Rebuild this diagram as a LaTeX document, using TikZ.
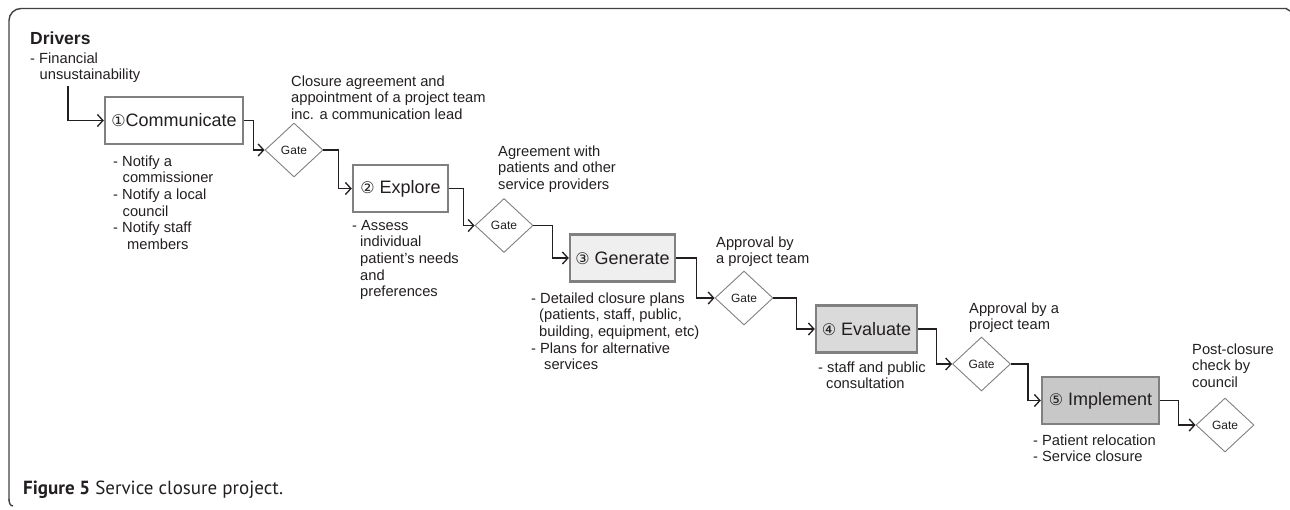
\documentclass[tikz,border=0pt]{standalone}
\usepackage{fontspec}
\setmainfont{Liberation Sans}
\newfontfamily\circfont{DejaVu Sans}
\newfontfamily\capfont{PT Sans}
\usetikzlibrary{shapes.geometric,arrows.meta}
\definecolor{ink}{HTML}{231F20}
\definecolor{boxline}{HTML}{808080}
\definecolor{genfill}{HTML}{EFEFEF}
\definecolor{evafill}{HTML}{DADADA}
\definecolor{impfill}{HTML}{C8C8C8}
\newcommand{\circnum}[1]{{\circfont\fontsize{16}{16}\selectfont #1}}
\begin{document}
\begin{tikzpicture}[x=1pt,y=-1pt,
  txt/.style={anchor=north west, inner sep=0pt, align=left, text=ink,
    font=\fontsize{14.7}{16.6}\selectfont, yshift=11.62pt},
  stage/.style={draw=boxline, line width=2.4pt, inner sep=0pt, text=ink,
    minimum height=47pt, font=\fontsize{18}{20}\selectfont},
  gate/.style={diamond, draw=boxline, line width=0.9pt, fill=white, inner sep=0pt,
    minimum width=58pt, minimum height=54pt, text=ink, font=\fontsize{12}{14}\selectfont},
  conn/.style={draw=ink, line width=1.3pt, -{Straight Barb[length=5.5pt,width=12pt]}},
  frame/.style={draw=ink!85, line width=1.4pt}
]
\useasboundingbox (0,0) rectangle (1290,509);
% frame
\draw[frame, rounded corners=12pt] (1287,8.5) -- (9,8.5) -- (9,500);
\draw[frame] (9,499) to[out=-90,in=180] (13,506);
\draw[frame] (1286,8.5) -- (1290,11);

% drivers
\node[txt, font=\bfseries\fontsize{17.5}{19}\selectfont, yshift=-0.5pt] (drv) at (30,42) {\strut Drivers};
\node[txt] (fin) at (30,63) {\strut - Financial\\\hspace*{9.5pt}unsustainability};
\coordinate (drvstart) at (68,86);

% stages
\node[stage, fill=white, minimum width=138pt] (comm) at (174,120.5)
  {\circnum{①}Communicate};
\node[stage, fill=white, minimum width=95pt] (expl) at (400.5,188.5)
  {\circnum{②} Explore};
\node[stage, fill=genfill, minimum width=105pt] (gen) at (622.5,258)
  {\circnum{③} Generate};
\node[stage, fill=evafill, minimum width=101pt] (eva) at (866.5,329)
  {\circnum{④} Evaluate};
\node[stage, fill=impfill, minimum width=117pt] (imp) at (1100.5,400.5)
  {\circnum{⑤} Implement};

% gates
\node[gate] (g1) at (294,150) {Gate};
\node[gate] (g2) at (504,225.5) {Gate};
\node[gate] (g3) at (744,298) {Gate};
\node[gate] (g4) at (981.5,364) {Gate};
\node[gate] (g5) at (1225,425) {Gate};

% connectors
\draw[conn] (drvstart) |- (comm.west);
\draw[conn] (comm.east) -- ++(9,0) |- (g1.west);
\draw[conn] (g1.east) -- ++(15,0) |- (expl.west);
\draw[conn] (expl.east) -- ++(14,0) |- (g2.west);
\draw[conn] (g2.east) -- ++(19,0) |- (gen.west);
\draw[conn] (gen.east) -- ++(20,0) |- (g3.west);
\draw[conn] (g3.east) -- ++(23,0) |- (eva.west);
\draw[conn] (eva.east) -- ++(18,0) |- (g4.west);
\draw[conn] (g4.east) -- ++(17,0) |- (imp.west);
\draw[conn] (imp.east) -- ++(18,0) |- (g5.west);

% annotations
\node[txt] (t1) at (291,86) {\strut Closure agreement and\\appointment of a project team\\inc. a communication lead};
\node[txt] (t2) at (113,166) {\strut - Notify a\\\hspace*{9.5pt}commissioner\\- Notify a local\\\hspace*{9.5pt}council\\- Notify staff\\\hspace*{14pt}members};
\node[txt] (t3) at (352,230) {\strut - Assess\\\hspace*{8pt}individual\\\hspace*{8pt}patient's needs\\\hspace*{8pt}and\\\hspace*{8pt}preferences};
\node[txt] (t4) at (498,156) {\strut Agreement with\\patients and other\\service providers};
\node[txt] (t5) at (531,303) {\strut - Detailed closure plans\\\hspace*{8pt}(patients, staff, public,\\\hspace*{8pt}building, equipment, etc)\\- Plans for alternative\\\hspace*{13pt}services};
\node[txt] (t6) at (716,247) {\strut Approval by\\a project team};
\node[txt] (t7) at (818,372) {\strut - staff and public\\\hspace*{8pt}consultation};
\node[txt] (t8) at (969,313) {\strut Approval by a\\project team};
\node[txt] (t9) at (1033,445) {\strut - Patient relocation\\- Service closure};
\node[txt] (t10) at (1192,354) {\strut Post-closure\\check by\\council};

% caption
\node[anchor=base west, inner sep=0pt, text=ink, font=\capfont\fontsize{19}{21}\selectfont] (cap) at (23,494)
  {\textbf{Figure 5} Service closure project.};
\end{tikzpicture}
\end{document}
